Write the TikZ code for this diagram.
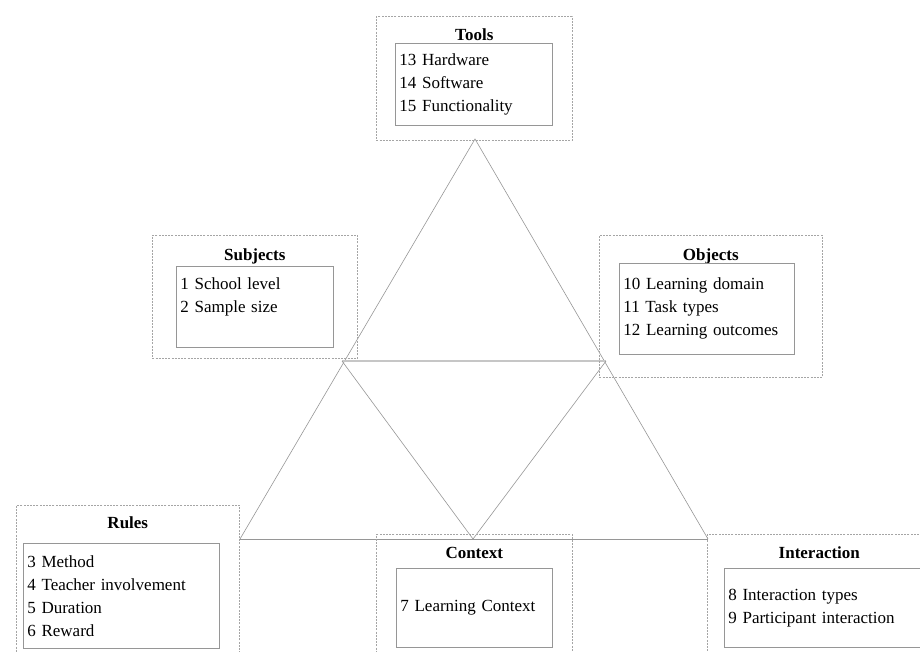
\documentclass[tikz,border=0pt]{standalone}
\usepackage{fontspec}
\setmainfont{Liberation Serif}
\usepackage{xcolor}
\usetikzlibrary{positioning}
\definecolor{linegray}{RGB}{150,150,150}
\definecolor{dashgray}{RGB}{165,165,165}
\tikzstyle{outerbox} = [draw=dashgray, dash pattern=on 2pt off 1.2pt, line width=0.6pt,
rectangle, anchor=north west, inner sep=0pt]
\tikzstyle{innerbox} = [draw=linegray, line width=0.8pt, rectangle, anchor=north west,
inner xsep=4pt, inner ysep=0pt, align=left, font=\fontsize{17}{23}\selectfont]
\tikzstyle{boxtitle} = [font=\fontsize{17}{18}\selectfont\bfseries, inner sep=0pt]
\tikzstyle{tri} = [draw=linegray, line width=0.6pt]

\begin{document}
\begin{tikzpicture}[x=1pt, y=-1pt]
        \useasboundingbox (0,0) rectangle (920,651);
        \clip (0,0) rectangle (920,651);
        % triangle
        \coordinate (apex) at (475,139);
        \coordinate (bl) at (240,539);
        \coordinate (br) at (708,539);
        \coordinate (ml) at (342,361);
        \coordinate (mr) at (606,361);
        \coordinate (bm) at (473,539);
        \draw[tri] (bl) -- (apex) -- (br);
        \draw[tri, line width=0.9pt] (bl) -- (br);
        \draw[tri, draw=gray!45, line width=1.3pt] (ml) -- (mr);
        \draw[tri] (ml) -- (bm) -- (mr);
        % tools
        \node[outerbox, minimum width=196pt, minimum height=124pt] (tools) at (376,16) {};
        \node[boxtitle, below=24pt of tools.north, anchor=base] (toolstitle) {Tools};
        \node[innerbox, text width=149pt, minimum height=82pt] (toolsbox) at (395,43)
            {13 Hardware\\14 Software\\15 Functionality};
        % subjects
        \node[outerbox, minimum width=205pt, minimum height=123pt] (subjects) at (152,235) {};
        \node[boxtitle, below=25pt of subjects.north, anchor=base] (subjectstitle) {Subjects};
        \node[innerbox, text width=149pt, minimum height=81pt] (subjectsbox) at (176,266)
            {1 School level\\2 Sample size\\\mbox{}};
        % objects
        \node[outerbox, minimum width=223pt, minimum height=142pt] (objects) at (599,235) {};
        \node[boxtitle, below=25pt of objects.north, anchor=base] (objectstitle) {Objects};
        \node[innerbox, text width=167pt, minimum height=91pt] (objectsbox) at (619,263)
            {10 Learning domain\\11 Task types\\12 Learning outcomes};
        % rules
        \node[outerbox, minimum width=223pt, minimum height=200pt] (rules) at (16,505) {};
        \node[boxtitle, below=23pt of rules.north, anchor=base] (rulestitle) {Rules};
        \node[innerbox, text width=188pt, minimum height=105pt] (rulesbox) at (23,543)
            {3 Method\\4 Teacher involvement\\5 Duration\\6 Reward};
        % context
        \node[outerbox, minimum width=196pt, minimum height=170pt] (context) at (376,534) {};
        \node[boxtitle, below=24pt of context.north, anchor=base] (contexttitle) {Context};
        \node[innerbox, text width=148pt, minimum height=79pt] (contextbox) at (396,568)
            {7 Learning Context};
        % interaction
        \node[outerbox, minimum width=224pt, minimum height=170pt] (interaction) at (707,534) {};
        \node[boxtitle, below=24pt of interaction.north, anchor=base] (interactiontitle) {Interaction};
        \node[innerbox, text width=198pt, minimum height=79pt] (interactionbox) at (724,568)
            {8 Interaction types\\9 Participant interaction};
    \end{tikzpicture}
\end{document}
